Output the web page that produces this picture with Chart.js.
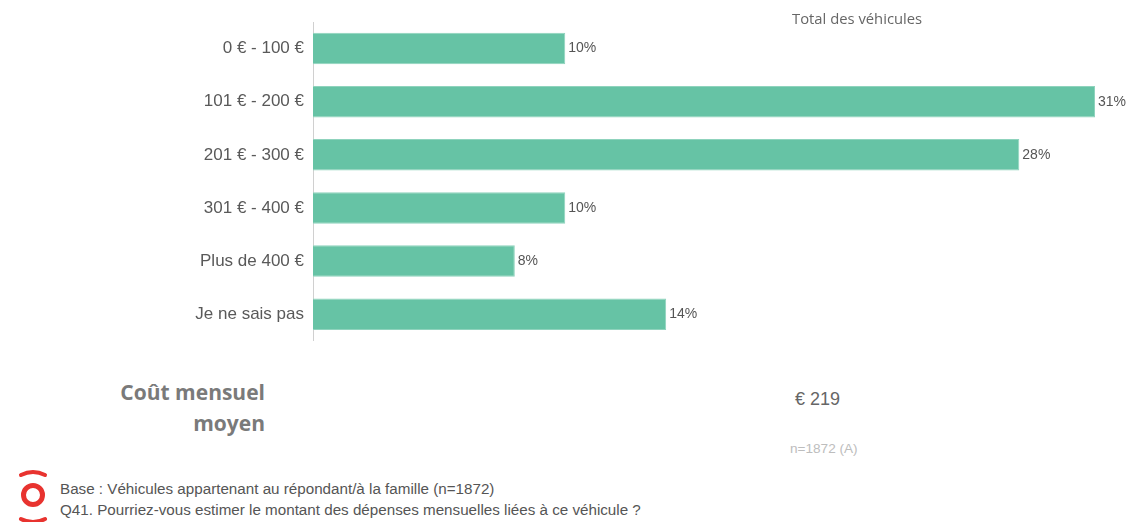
<!DOCTYPE html>
<html lang="fr">
<head>
<meta charset="utf-8">
<title>Coût mensuel des véhicules</title>
<script src="https://cdn.jsdelivr.net/npm/chart.js@4/dist/chart.umd.min.js"></script>
<style>
  html, body { margin: 0; padding: 0; background: #fff; }
  #wrap { position: relative; width: 1137px; height: 522px; overflow: hidden; font-family: "Liberation Sans", Arial, sans-serif; }
  #chartBox { position: absolute; left: 0; top: 0; width: 1137px; height: 360px; }
  .txt { position: absolute; white-space: nowrap; }
  #seriesTitle { left: 792px; top: 8px; font-family: "Open Sans", sans-serif; font-size: 14.8px; color: #666; }
  #avgLabel { right: 872px; top: 377px; font-family: "Open Sans", sans-serif; font-weight: 700; font-size: 21px; line-height: 31px; color: #7a7a7a; text-align: right; }
  #avgValue { left: 795px; top: 389px; font-size: 18px; color: #666; }
  #sampleSize { left: 790px; top: 441px; font-size: 13.6px; color: #bdbdbd; }
  #notes { left: 60px; top: 478px; font-size: 15.2px; line-height: 21px; color: #555; }
  #logo { position: absolute; left: 14px; top: 462px; }
</style>
</head>
<body>
<div id="wrap">
  <div id="chartBox"><canvas id="chart"></canvas></div>
  <div class="txt" id="seriesTitle"></div>
  <div class="txt" id="avgLabel"></div>
  <div class="txt" id="avgValue"></div>
  <div class="txt" id="sampleSize"></div>
  <svg id="logo" width="38" height="60" viewBox="0 0 38 60">
    <path d="M7 13 Q19 7 31 13" stroke="#e8332f" stroke-width="4" fill="none" stroke-linecap="round"/>
    <circle cx="19" cy="33" r="9.5" stroke="#e8332f" stroke-width="5" fill="none"/>
    <path d="M7 57 Q19 63 31 57" stroke="#e8332f" stroke-width="4" fill="none" stroke-linecap="round"/>
  </svg>
  <div class="txt" id="notes"></div>
</div>
<script>
// Monthly cost brackets and share of vehicles (%)
const categories = ["0 € - 100 €", "101 € - 200 €", "201 € - 300 €", "301 € - 400 €", "Plus de 400 €", "Je ne sais pas"];
const shares = [10, 31, 28, 10, 8, 14];
const seriesName = "Total des véhicules";
const averageCost = 219;
const sampleLabel = "n=1872 (A)";
const footnotes = [
  "Base : Véhicules appartenant au répondant/à la famille (n=1872)",
  "Q41. Pourriez-vous estimer le montant des dépenses mensuelles liées à ce véhicule ?"
];

document.getElementById("seriesTitle").textContent = seriesName;
document.getElementById("avgLabel").innerHTML = "Coût mensuel<br>moyen";
document.getElementById("avgValue").textContent = "€ " + averageCost;
document.getElementById("sampleSize").textContent = sampleLabel;
document.getElementById("notes").innerHTML = footnotes.join("<br>");

// Writes the percentage just past the end of each bar
const barValueLabels = {
  id: "barValueLabels",
  afterDatasetsDraw(chart) {
    const ctx = chart.ctx;
    const meta = chart.getDatasetMeta(0);
    ctx.save();
    ctx.font = '14px "Liberation Sans", Arial, sans-serif';
    ctx.fillStyle = "#555";
    ctx.textAlign = "left";
    ctx.textBaseline = "middle";
    meta.data.forEach((bar, i) => {
      ctx.fillText(chart.data.datasets[0].data[i] + "%", bar.x + 3, bar.y);
    });
    ctx.restore();
  }
};

new Chart(document.getElementById("chart"), {
  type: "bar",
  data: {
    labels: categories,
    datasets: [{
      label: seriesName,
      data: shares,
      backgroundColor: "#66c3a5",
      borderColor: "#8fd3bd",
      borderWidth: 1,
      barPercentage: 0.593,
      categoryPercentage: 1
    }]
  },
  options: {
    indexAxis: "y",
    responsive: true,
    maintainAspectRatio: false,
    animation: false,
    layout: { padding: { left: 0, right: 42, top: 22, bottom: 14 } },
    plugins: { legend: { display: false }, tooltip: { enabled: false } },
    scales: {
      x: { display: false, min: 0, max: 31 },
      y: {
        afterFit(scale) { scale.width = 313; },
        grid: { display: false, drawTicks: false },
        border: { display: true, color: "#d0d0d0", width: 1 },
        ticks: {
          padding: 9,
          color: "#595959",
          font: { family: '"Liberation Sans", Arial, sans-serif', size: 17 }
        }
      }
    }
  },
  plugins: [barValueLabels]
});
</script>
</body>
</html>
